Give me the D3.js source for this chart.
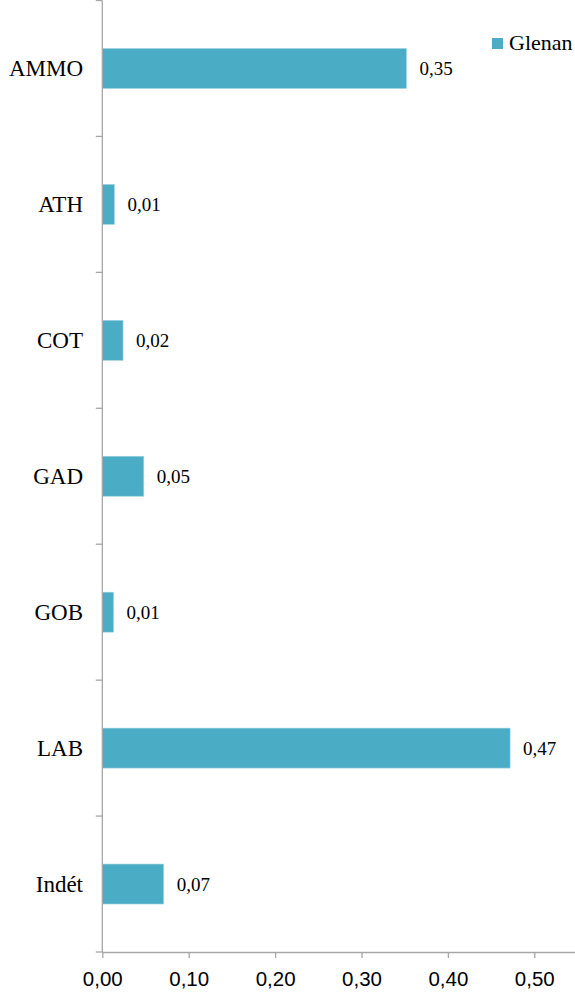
<!DOCTYPE html>
<html>
<head>
<meta charset="utf-8">
<script src="https://cdn.jsdelivr.net/npm/d3@7"></script>
<style>
html,body{margin:0;padding:0;background:#fff;}
svg{display:block;}
</style>
</head>
<body>
<svg id="chart" width="575" height="1000"></svg>
<script>
const categories = ["AMMO", "ATH", "COT", "GAD", "GOB", "LAB", "Indét"];
const values = [0.352, 0.014, 0.024, 0.048, 0.013, 0.472, 0.071];
const valueLabels = ["0,35", "0,01", "0,02", "0,05", "0,01", "0,47", "0,07"];
const xTicks = [0, 0.1, 0.2, 0.3, 0.4, 0.5];
const seriesName = "Glenan";

const svg = d3.select("#chart");
const plotLeft = 102.3, plotTop = 0.5, plotBottom = 952;
const x = d3.scaleLinear().domain([0, 0.55]).range([plotLeft, plotLeft + 864 * 0.55]);
const y = d3.scaleBand().domain(categories).range([plotTop, plotBottom]).paddingInner(0.706).paddingOuter(0.353);
const yAxisScale = d3.scaleBand().domain(categories).range([plotTop, plotBottom]);

const color = "#4BACC6";
const axisColor = "#A6A6A6";
const serif = "'Liberation Serif', 'Times New Roman', serif";

// bars
svg.selectAll("rect.bar").data(categories).enter().append("rect")
  .attr("class", "bar")
  .attr("x", x(0))
  .attr("y", d => y(d))
  .attr("width", (d, i) => x(values[i]) - x(0))
  .attr("height", y.bandwidth())
  .attr("fill", color)
  .attr("stroke", "#9FD3E0")
  .attr("stroke-width", 0.6);

// value labels
svg.selectAll("text.val").data(categories).enter().append("text")
  .attr("class", "val")
  .attr("x", (d, i) => x(values[i]) + 13)
  .attr("y", d => y(d) + y.bandwidth() / 2 + 6.5)
  .attr("font-family", serif)
  .attr("font-size", 19)
  .attr("fill", "#000")
  .text((d, i) => valueLabels[i]);

// y axis
const gy = svg.append("g");
gy.append("line").attr("x1", plotLeft).attr("x2", plotLeft).attr("y1", plotTop).attr("y2", plotBottom)
  .attr("stroke", axisColor).attr("stroke-width", 1.3);
const boundaries = categories.map(c => yAxisScale(c)).concat([plotBottom]);
gy.selectAll("line.tick").data(boundaries).enter().append("line")
  .attr("x1", plotLeft - 6.5).attr("x2", plotLeft).attr("y1", d => d).attr("y2", d => d)
  .attr("stroke", axisColor).attr("stroke-width", 1.3);
gy.selectAll("text").data(categories).enter().append("text")
  .attr("x", 83)
  .attr("y", d => yAxisScale(d) + yAxisScale.bandwidth() / 2 + 7.5)
  .attr("text-anchor", "end")
  .attr("font-family", serif)
  .attr("font-size", 23)
  .attr("fill", "#000")
  .text(d => d);

// x axis
const fmt = d => d3.format(".2f")(d).replace(".", ",");
const gx = svg.append("g").attr("transform", `translate(0,${plotBottom})`)
  .call(d3.axisBottom(x).tickValues(xTicks).tickFormat(fmt).tickSize(6).tickPadding(13).tickSizeOuter(0));
gx.select(".domain").attr("stroke", axisColor).attr("stroke-width", 1.3);
gx.selectAll(".tick line").attr("stroke", axisColor).attr("stroke-width", 1.3);
gx.selectAll(".tick text")
  .attr("font-family", "'Liberation Sans', Arial, sans-serif")
  .attr("font-size", 20.5)
  .attr("fill", "#000");

// legend
const lg = svg.append("g");
lg.append("rect").attr("x", 492).attr("y", 38).attr("width", 11).attr("height", 11).attr("fill", color);
lg.append("text").attr("x", 509).attr("y", 50)
  .attr("font-family", serif)
  .attr("font-size", 22)
  .attr("fill", "#000")
  .text(seriesName);
</script>
</body>
</html>
